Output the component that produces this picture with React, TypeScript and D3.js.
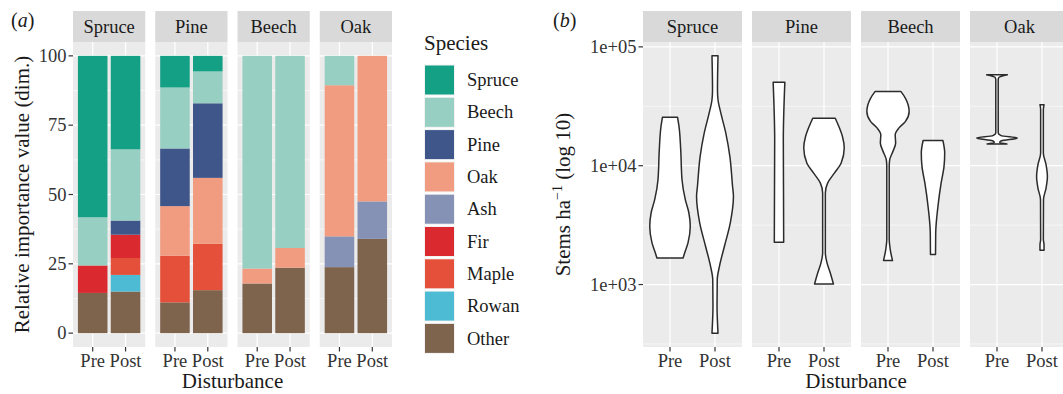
import React from "react";
import * as d3 from "d3";

// ---- data ----
const stands = ["Spruce", "Pine", "Beech", "Oak"];
const periods = ["Pre", "Post"];
const species = ["Spruce", "Beech", "Pine", "Oak", "Ash", "Fir", "Maple", "Rowan", "Other"];
const speciesColors = ["#14A085", "#97CFC2", "#3E5689", "#F19C80", "#8592B5", "#DA2A30", "#E5503B", "#4EBBD5", "#7E644D"];

// relative importance value, order: SprucePre, SprucePost, PinePre, PinePost, BeechPre, BeechPost, OakPre, OakPost
const spruceIv = [58.2, 33.7, 11.4, 5.6, 0, 0, 0, 0];
const beechIv = [17.4, 25.7, 22.0, 11.5, 76.7, 69.3, 10.6, 0];
const pineIv = [0, 5.1, 20.8, 26.9, 0, 0, 0, 0];
const oakIv = [0, 0, 17.9, 23.8, 5.4, 7.1, 54.5, 52.5];
const ashIv = [0, 0, 0, 0, 0, 0, 11.1, 13.5];
const firIv = [9.9, 8.4, 0, 0, 0, 0, 0, 0];
const mapleIv = [0, 6.1, 16.8, 16.7, 0, 0, 0, 0];
const rowanIv = [0, 6.0, 0, 0, 0, 0, 0, 0];
const otherIv = [14.5, 15.0, 11.1, 15.5, 17.9, 23.6, 23.8, 34.0];
const ivBySpecies = [spruceIv, beechIv, pineIv, oakIv, ashIv, firIv, mapleIv, rowanIv, otherIv];

const ivTicks = [0, 25, 50, 75, 100];
const ivMinor = [12.5, 37.5, 62.5, 87.5];

// violin outlines: [stems ha-1, half width in category units], top to bottom
const sprucePre = [[25600, 0.167], [21400, 0.2], [13600, 0.238], [7620, 0.267], [5180, 0.34], [4000, 0.42], [3090, 0.45], [2240, 0.4], [1850, 0.327], [1670, 0.29]];
const sprucePost = [[84000, 0.067], [43600, 0.055], [35900, 0.067], [27700, 0.13], [18800, 0.24], [12000, 0.33], [6700, 0.39], [5520, 0.41], [3300, 0.34], [2100, 0.21], [1430, 0.1], [1100, 0.05], [660, 0.045], [390, 0.067]];
const pinePre = [[50500, 0.13], [16500, 0.096], [6280, 0.1], [2270, 0.104]];
const pinePost = [[25100, 0.25], [21400, 0.33], [17600, 0.41], [14100, 0.45], [10500, 0.38], [8670, 0.23], [7140, 0.08], [5890, 0.03], [1850, 0.03], [1520, 0.067], [1250, 0.14], [1010, 0.21]];
const beechPre = [[42200, 0.285], [37100, 0.385], [28600, 0.47], [23500, 0.385], [20700, 0.24], [18200, 0.16], [15500, 0.17], [13200, 0.11], [11200, 0.037], [9860, 0.027], [2390, 0.027], [1970, 0.05], [1590, 0.1]];
const beechPost = [[16300, 0.22], [12800, 0.26], [9860, 0.245], [7140, 0.18], [4550, 0.11], [2720, 0.06], [1790, 0.056]];
const oakPre = [[58200, 0.23], [55200, 0.04], [52800, 0.027], [18800, 0.027], [17900, 0.09], [17100, 0.455], [16200, 0.1], [15700, 0.06], [15200, 0.22]];
const oakPost = [[32600, 0.045], [29600, 0.03], [12800, 0.03], [10200, 0.09], [8130, 0.12], [6490, 0.09], [5180, 0.033], [2390, 0.03], [2170, 0.045], [1940, 0.045]];
const violins = [[sprucePre, sprucePost], [pinePre, pinePost], [beechPre, beechPost], [oakPre, oakPost]];

const stemTicks = [1e3, 1e4, 1e5];
const stemLabels = ["1e+03", "1e+04", "1e+05"];

// ---- layout ----
const W = 1063;
const H = 394;
const FONT = "'Liberation Serif', 'Times New Roman', serif";
const stripTop = 11;
const panelTop = 42;
const panelBottom = 347;
const gap = 10;

function facetX(left: number, width: number, i: number) {
  const x0 = left + i * (width + gap);
  return d3.scaleBand().domain(periods).range([x0, x0 + width]).paddingInner(0.1).paddingOuter(0.15);
}

function Facets({ left, width, y, major, minor }) {
  return (
    <g>
      {stands.map((s, i) => {
        const x = facetX(left, width, i);
        const [x0, x1] = x.range();
        return (
          <g key={s}>
            <rect x={x0} y={stripTop} width={x1 - x0} height={panelTop - stripTop} fill="#D9D9D9" />
            <text x={(x0 + x1) / 2} y={33} textAnchor="middle" fontSize={18.5} fill="#1A1A1A">{s}</text>
            <rect x={x0} y={panelTop} width={x1 - x0} height={panelBottom - panelTop} fill="#EBEBEB" />
            {minor.map((v) => (
              <line key={"m" + v} x1={x0} x2={x1} y1={y(v)} y2={y(v)} stroke="#fff" strokeWidth={0.6} />
            ))}
            {major.map((v) => (
              <line key={"M" + v} x1={x0} x2={x1} y1={y(v)} y2={y(v)} stroke="#fff" strokeWidth={1.2} />
            ))}
            {periods.map((p) => {
              const cx = x(p)! + x.bandwidth() / 2;
              return (
                <g key={p}>
                  <line x1={cx} x2={cx} y1={panelTop} y2={panelBottom} stroke="#fff" strokeWidth={1.2} />
                  <line x1={cx} x2={cx} y1={panelBottom} y2={panelBottom + 4.5} stroke="#333" strokeWidth={1.2} />
                  <text x={cx} y={367} textAnchor="middle" fontSize={18.5} fill="#333">{p}</text>
                </g>
              );
            })}
          </g>
        );
      })}
    </g>
  );
}

export default function App() {
  // ---- panel (a) ----
  const aLeft = 73;
  const aWidth = (392 - aLeft - 3 * gap) / 4;
  const yIv = d3.scaleLinear().domain([-5, 105]).range([panelBottom, panelTop]);

  const rows = stands.flatMap((s, si) =>
    periods.map((p, pi) => {
      const row: any = { stand: s, period: p, si };
      species.forEach((sp, k) => (row[sp] = ivBySpecies[k][si * 2 + pi]));
      return row;
    })
  );
  const stackKeys = [...species].reverse();
  const stacked = d3.stack().keys(stackKeys)(rows);
  const color = d3.scaleOrdinal<string, string>().domain(species).range(speciesColors);

  // ---- panel (b) ----
  const bLeft = 643;
  const bWidth = 99;
  const allStems = violins.flat(2).map((d: any) => Math.log10(d[0]));
  const [lo, hi] = d3.extent(allStems) as [number, number];
  const pad = (hi - lo) * 0.05;
  const yStem = d3.scaleLog().domain([10 ** (lo - pad), 10 ** (hi + pad)]).range([panelBottom, panelTop]);
  const stemMinor = [10 ** 2.5, 10 ** 3.5, 10 ** 4.5];

  return (
    <div style={{ position: "absolute", left: 0, top: 0 }}>
      <svg width={W} height={H} fontFamily={FONT} style={{ display: "block", background: "#fff" }}>
        {/* panel (a) */}
        <text x={11} y={27} fontSize={20} fill="#1A1A1A">
          (<tspan fontStyle="italic">a</tspan>)
        </text>
        <Facets left={aLeft} width={aWidth} y={yIv} major={ivTicks} minor={ivMinor} />
        {stacked.map((layer) => (
          <g key={layer.key} fill={color(layer.key)}>
            {layer.map((d: any, i) => {
              const r = rows[i];
              const x = facetX(aLeft, aWidth, r.si);
              const h = yIv(d[0]) - yIv(d[1]);
              if (h <= 0) return null;
              return <rect key={i} x={x(r.period)} width={x.bandwidth()} y={yIv(d[1])} height={h} />;
            })}
          </g>
        ))}
        {ivTicks.map((t) => (
          <g key={t}>
            <line x1={aLeft - 4.5} x2={aLeft} y1={yIv(t)} y2={yIv(t)} stroke="#333" strokeWidth={1.2} />
            <text x={aLeft - 6.5} y={yIv(t)} dy="0.33em" textAnchor="end" fontSize={18.5} fill="#333">{t}</text>
          </g>
        ))}
        <text transform={`translate(29,${(panelTop + panelBottom) / 2}) rotate(-90)`} textAnchor="middle" fontSize={21} fill="#1A1A1A">
          Relative importance value (dim.)
        </text>
        <text x={aLeft + (392 - aLeft) / 2} y={388} textAnchor="middle" fontSize={21} fill="#1A1A1A">Disturbance</text>

        {/* legend */}
        <text x={424} y={50} fontSize={21} fill="#1A1A1A">Species</text>
        {species.map((sp, i) => {
          const ky = 64.5 + i * 32.3;
          return (
            <g key={sp}>
              <rect x={424} y={ky} width={31} height={31} fill="#F2F2F2" />
              <rect x={425} y={ky + 1} width={29} height={29} fill={color(sp)} />
              <text x={467} y={ky + 15.5} dy="0.33em" fontSize={18.5} fill="#1A1A1A">{sp}</text>
            </g>
          );
        })}

        {/* panel (b) */}
        <text x={553} y={27} fontSize={20} fill="#1A1A1A">
          (<tspan fontStyle="italic">b</tspan>)
        </text>
        <Facets left={bLeft} width={bWidth} y={yStem} major={stemTicks} minor={stemMinor} />
        {violins.map((pair, si) => {
          const x = facetX(bLeft, bWidth, si);
          const step = x.step();
          return pair.map((pts: any, pi) => {
            const cx = x(periods[pi])! + x.bandwidth() / 2;
            const area = d3
              .area<number[]>()
              .y((d) => yStem(d[0]))
              .x0((d) => cx - d[1] * step)
              .x1((d) => cx + d[1] * step)
              .curve(d3.curveMonotoneY);
            return (
              <path key={si + "-" + pi} d={area(pts) || ""} fill="#fff" stroke="#2B2B2B" strokeWidth={1.5} strokeLinejoin="round" />
            );
          });
        })}
        {stemTicks.map((t, i) => (
          <g key={t}>
            <line x1={bLeft - 4.5} x2={bLeft} y1={yStem(t)} y2={yStem(t)} stroke="#333" strokeWidth={1.2} />
            <text x={bLeft - 6.5} y={yStem(t)} dy="0.33em" textAnchor="end" fontSize={18.5} fill="#333">{stemLabels[i]}</text>
          </g>
        ))}
        <text transform={`translate(570,${(panelTop + panelBottom) / 2}) rotate(-90)`} textAnchor="middle" fontSize={21} fill="#1A1A1A">
          Stems ha<tspan dy={-8} fontSize={14}>−1</tspan>
          <tspan dy={8}> (log 10)</tspan>
        </text>
        <text x={bLeft + (4 * bWidth + 3 * gap) / 2} y={388} textAnchor="middle" fontSize={21} fill="#1A1A1A">Disturbance</text>
      </svg>
    </div>
  );
}
